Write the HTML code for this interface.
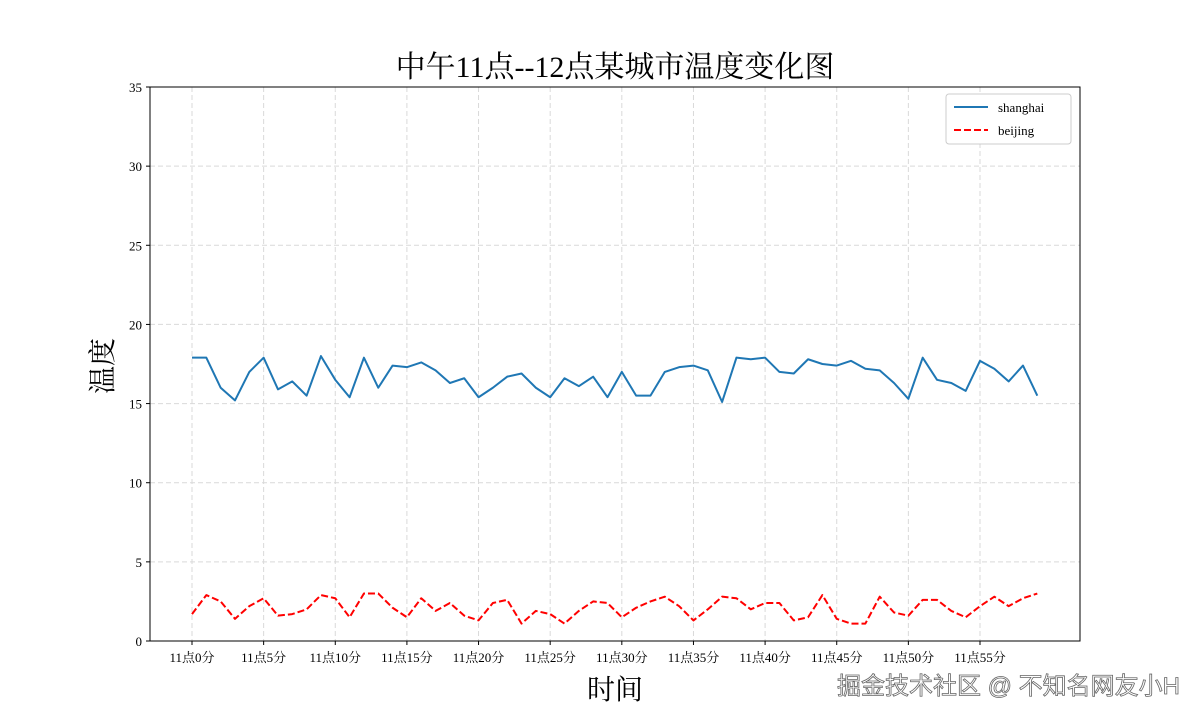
<!DOCTYPE html>
<html><head><meta charset="utf-8"><style>
html,body{margin:0;padding:0;background:#fff;}
svg{display:block;font-family:"Liberation Serif","Noto Serif CJK SC",serif;}
</style></head><body>
<svg id="chart" width="1200" height="720" viewBox="0 0 1200 720" xmlns="http://www.w3.org/2000/svg">
<rect width="1200" height="720" fill="#fff"/>
<text x="615" y="77" font-size="30" text-anchor="middle" fill="#000">中午11点--12点某城市温度变化图</text>
<g id="grid"></g>
<g id="series"></g>
<rect x="150" y="87" width="930" height="554" fill="none" stroke="#000" stroke-width="1"/>
<g id="ticks"></g>
<text x="615" y="699" font-size="28" text-anchor="middle">时间</text>
<text x="0" y="0" font-size="28" text-anchor="middle" transform="translate(112,366) rotate(-90)">温度</text>
<g>
<rect x="946" y="94" width="125" height="50" rx="3" fill="#fff" stroke="#ccc"/>
<line x1="954" y1="107" x2="988" y2="107" stroke="#1f77b4" stroke-width="2"/>
<text x="998" y="112" font-size="13">shanghai</text>
<line x1="954" y1="130" x2="988" y2="130" stroke="#ff0000" stroke-width="2" stroke-dasharray="7,3"/>
<text x="998" y="135" font-size="13">beijing</text>
</g>
<text x="1180" y="694" font-size="24" text-anchor="end" fill="#fff" stroke="#666" stroke-width="0.8" font-family="'Liberation Sans','Noto Sans CJK SC',sans-serif">掘金技术社区 @ 不知名网友小H</text>
</svg>
<script>
const minutes = Array.from({length:60},(_,i)=>i);
const shanghai = [17.9,17.9,16.0,15.2,17.0,17.9,15.9,16.4,15.5,18.0,16.5,15.4,17.9,16.0,17.4,17.3,17.6,17.1,16.3,16.6,15.4,16.0,16.7,16.9,16.0,15.4,16.6,16.1,16.7,15.4,17.0,15.5,15.5,17.0,17.3,17.4,17.1,15.1,17.9,17.8,17.9,17.0,16.9,17.8,17.5,17.4,17.7,17.2,17.1,16.3,15.3,17.9,16.5,16.3,15.8,17.7,17.2,16.4,17.4,15.5];
const beijing = [1.7,2.9,2.5,1.4,2.2,2.7,1.6,1.7,2.0,2.9,2.7,1.5,3.0,3.0,2.1,1.5,2.7,1.9,2.4,1.6,1.3,2.4,2.6,1.1,1.9,1.7,1.1,1.9,2.5,2.4,1.5,2.1,2.5,2.8,2.2,1.3,2.0,2.8,2.7,2.0,2.4,2.4,1.3,1.5,2.9,1.4,1.1,1.1,2.8,1.8,1.6,2.6,2.6,1.9,1.5,2.2,2.8,2.2,2.7,3.0];
const yTicks = [0,5,10,15,20,25,30,35];
const xTickMinutes = [0,5,10,15,20,25,30,35,40,45,50,55];
const xTickLabels = xTickMinutes.map(m=>'11点'+m+'分');

const NS='http://www.w3.org/2000/svg';
const X0=150,X1=1080,Y0=641,Y1=87;
const xScale = m => 192 + m*(980-192)/55;
const yScale = v => Y0 - (v/35)*(Y0-Y1);
function mk(tag,attrs,parent){const e=document.createElementNS(NS,tag);for(const k in attrs)e.setAttribute(k,attrs[k]);parent.appendChild(e);return e;}
const grid=document.getElementById('grid'),ticks=document.getElementById('ticks'),series=document.getElementById('series');
yTicks.forEach(v=>{
  const y=yScale(v);
  if(v>0&&v<35){const g=mk('line',{x1:X0,x2:X1,y1:y,y2:y,stroke:'#d9d9d9','stroke-dasharray':'5,3'},grid);
  
  }
  mk('line',{x1:X0-4,x2:X0,y1:y,y2:y,stroke:'#000'},ticks);
  const t=mk('text',{x:X0-8,y:y+5,'font-size':13,'text-anchor':'end'},ticks);
  t.textContent=v;
  
  
});
xTickMinutes.forEach((m,i)=>{
  const x=xScale(m);
  const g=mk('line',{x1:x,x2:x,y1:Y1,y2:Y0,stroke:'#d9d9d9','stroke-dasharray':'5,3'},grid);
  
  
  mk('line',{x1:x,x2:x,y1:Y0,y2:Y0+4,stroke:'#000'},ticks);
  const t=mk('text',{x:x,y:Y0+21,'font-size':13,'text-anchor':'middle'},ticks);
  t.textContent=xTickLabels[i];
  
  
});
function line(data,color,dash,name){
  const p=mk('polyline',{points:data.map((v,i)=>xScale(minutes[i])+','+yScale(v)).join(' '),fill:'none',stroke:color,'stroke-width':2,'stroke-linejoin':'round'},series);
  if(dash)p.setAttribute('stroke-dasharray',dash);
  
  
}
line(shanghai,'#1f77b4',null,'shanghai-line');
line(beijing,'#ff0000','7,3','beijing-line');
</script>
</body></html>
